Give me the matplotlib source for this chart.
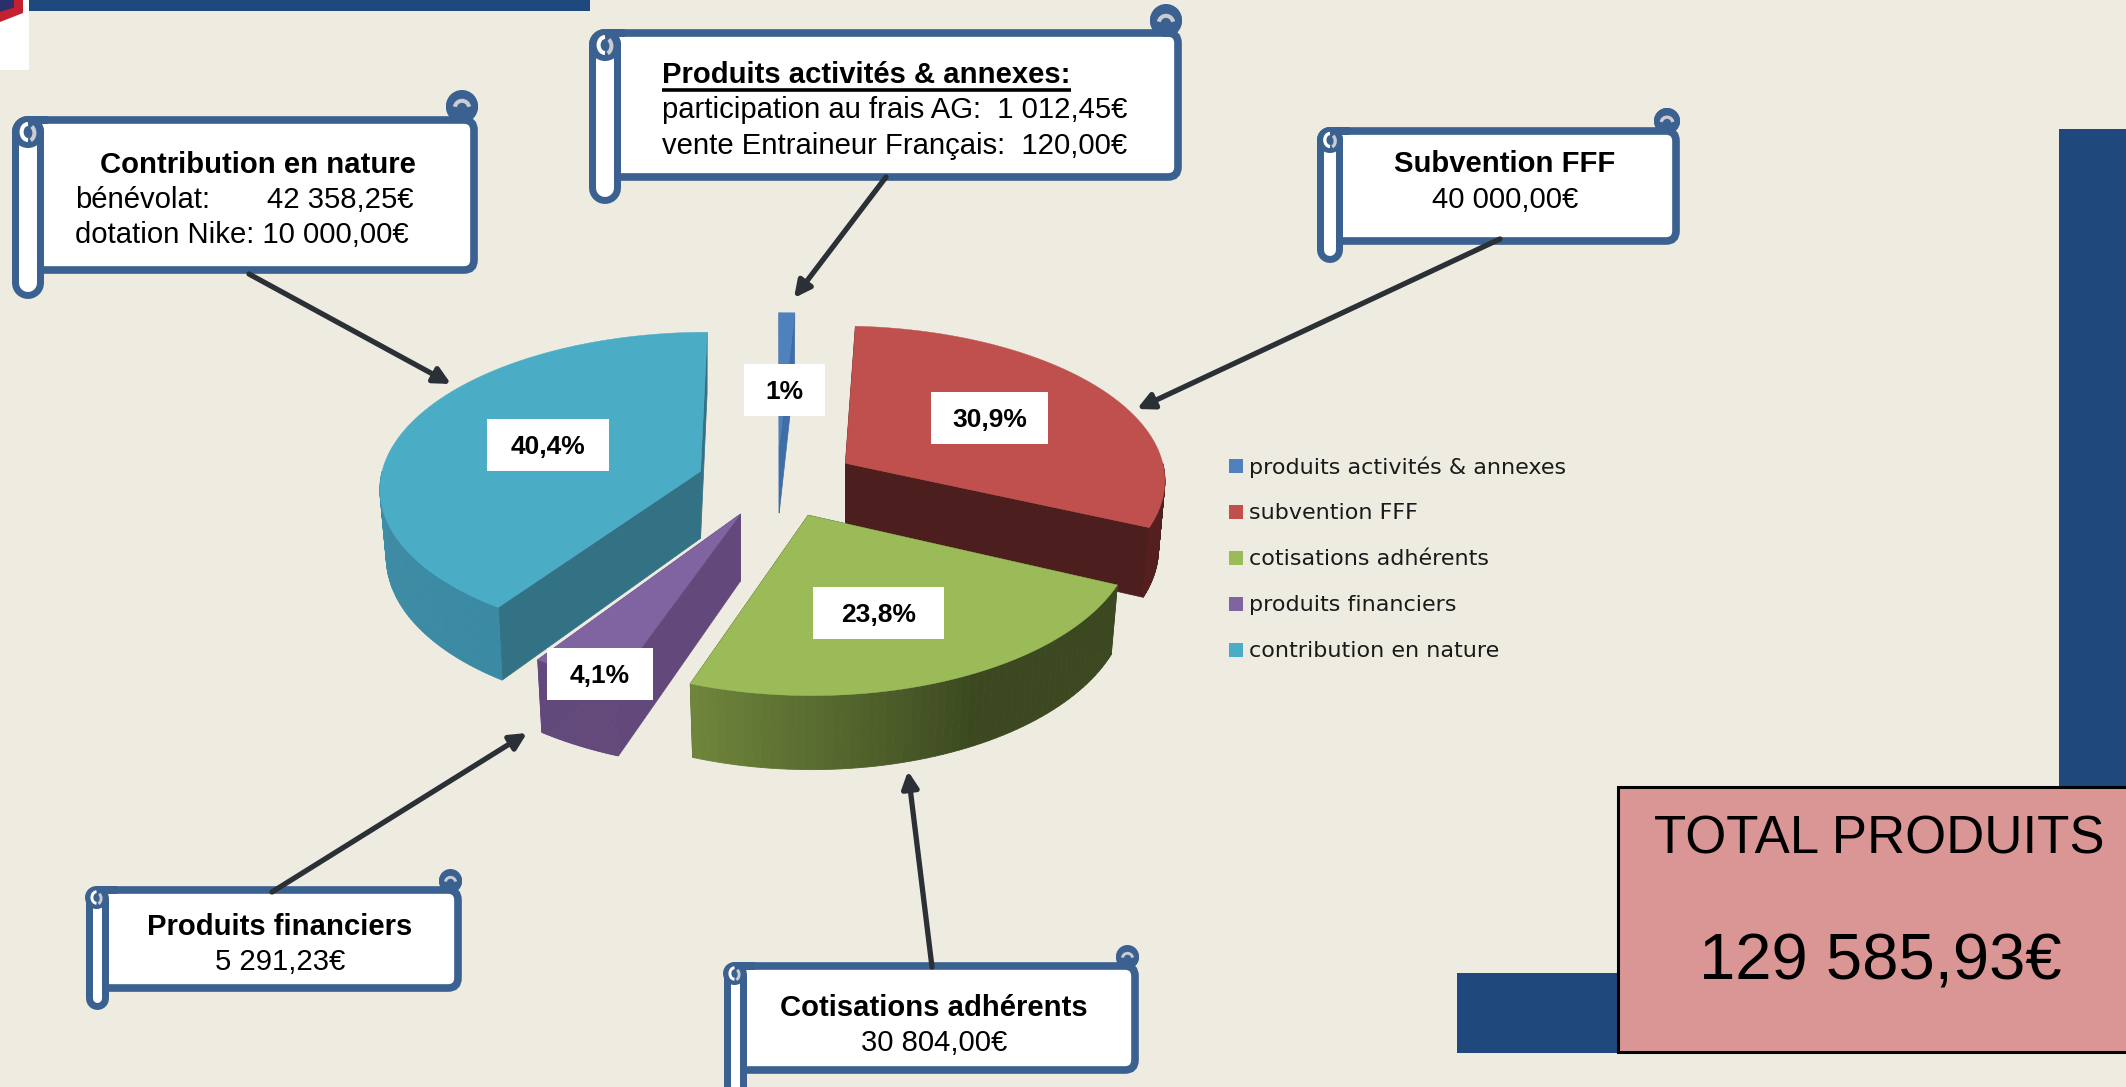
import numpy as np
import matplotlib
matplotlib.use("Agg")
import matplotlib.pyplot as plt
from matplotlib.colors import to_rgb
from matplotlib.patches import Rectangle, Polygon, FancyBboxPatch, Circle, Arc

# Donnees du graphique
categories = ["produits activités & annexes", "subvention FFF", "cotisations adhérents",
              "produits financiers", "contribution en nature"]
amounts = [1132.45, 40000.00, 30804.00, 5291.23, 52358.25]
pct_labels = ["1%", "30,9%", "23,8%", "4,1%", "40,4%"]
total_title = "TOTAL PRODUITS"
total_value = "129 585,93€"

top_colors = ["#4F81BD", "#C0504D", "#9BBB59", "#8064A2", "#4BACC6"]
face_colors = ["#3F6DA6", "#4D1E1E", "#3F4C22", "#63497B", "#337285"]
rim_left = ["#3F6DA6", "#561F1F", "#6F853B", "#62497C", "#3F8CA6"]
rim_right = ["#3F6DA6", "#4D1E1E", "#3C4920", "#63497B", "#3A8AA3"]

BG = "#EEECE1"
NAVY = "#1F497D"
SCROLL = "#3B6190"
ARROW = "#2B2F36"

plt.rcParams["font.family"] = ["Liberation Sans", "DejaVu Sans"]

fig = plt.figure(figsize=(21.26, 10.87), dpi=100, facecolor=BG)
ax = fig.add_axes([0, 0, 1, 1])
ax.set_xlim(0, 2126)
ax.set_ylim(1087, 0)
ax.axis("off")

# Fond de la diapositive
ax.add_patch(Rectangle((29, 0), 561, 11, color=NAVY, lw=0))
ax.add_patch(Rectangle((0, 0), 29, 70, color="white", lw=0))
ax.add_patch(Polygon([(0, 22), (23, 13), (23, 0), (0, 0)], color="#C4202F", lw=0))
ax.add_patch(Polygon([(0, 12), (14, 7.5), (14, 0), (0, 0)], color="#2B2F6B", lw=0))
ax.add_patch(Rectangle((2059, 129), 67, 680, color=NAVY, lw=0))
ax.add_patch(Rectangle((1457, 973), 669, 80, color=NAVY, lw=0))

# Camembert 3D : perspective simple sur chaque part
K = 0.095
CX, CY = 777, 482
EX, EY = 80, 36
DEPTH = 67

shares = np.array(amounts) / sum(amounts) * 360
ends = 90 - np.cumsum(shares)
starts = ends + shares


def project(i, theta):
    X, Y = np.cos(np.radians(theta)), np.sin(np.radians(theta))
    m = np.radians((starts[i] + ends[i]) / 2)
    rx, ry = 320 - 5 * np.sin(m), 155 - 9 * np.sin(m)
    dx = EX * np.cos(m)
    w = 1 + K * Y
    return CX + dx / w + rx * X / w, CY - EY * np.sin(m) - ry * Y / w


def drop(i, theta):
    # point correspondant sur la face du bas
    p = project(i, theta)
    w = 1 + K * np.sin(np.radians(theta))
    m = np.radians((starts[i] + ends[i]) / 2)
    ax0 = CX + EX * np.cos(m)
    return ax0 + (p[0] - ax0) * 0.98, p[1] + DEPTH / w


for i in [0, 4, 1, 3, 2]:
    a0, a1 = starts[i], ends[i]
    m = np.radians((a0 + a1) / 2)
    c = (CX + EX * np.cos(m), CY - EY * np.sin(m))
    c_low = (c[0], c[1] + DEPTH)
    # faces radiales
    for a in (a0, a1):
        ax.add_patch(Polygon([c, project(i, a), drop(i, a), c_low], color=face_colors[i], lw=0.5))
    # bord exterieur en degrade, seulement sur l'avant
    if a1 < 0:
        steps = np.linspace(min(a0, 0), max(a1, -180), 60)
        col_a, col_b = np.array(to_rgb(rim_right[i])), np.array(to_rgb(rim_left[i]))
        for j in range(len(steps) - 1):
            f = j / 58
            if i == 2:
                f = max(0, (f - 0.45) / 0.55)
            ax.add_patch(Polygon([project(i, steps[j]), project(i, steps[j + 1]),
                                  drop(i, steps[j + 1]), drop(i, steps[j])],
                                 color=col_a + (col_b - col_a) * f, lw=0.6))
    # dessus
    arc = [project(i, t) for t in np.linspace(a0, a1, 120)]
    ax.add_patch(Polygon([c] + arc, color=top_colors[i], lw=0.3))

# Etiquettes de pourcentage
pct_boxes = [(744, 364, 81), (931, 392, 117), (813, 587, 131), (547, 648, 106), (487, 419, 122)]
for (x, y, w), lab in zip(pct_boxes, pct_labels):
    ax.add_patch(Rectangle((x, y), w, 52, color="white", lw=0, zorder=5))
    ax.text(x + w / 2, y + 28, lab, ha="center", va="center", fontsize=19, fontweight="bold",
            color="black", zorder=6)

# Legende
legend_y = [466, 512, 558, 604, 650]
for y, col, lab in zip(legend_y, top_colors, categories):
    ax.add_patch(Rectangle((1229, y - 7), 14, 14, color=col, lw=0))
    ax.text(1249, y + 1, lab, ha="left", va="center", fontsize=16, family="DejaVu Sans", color="#1A1A1A")


def scroll(x0, x1, y0, y1, y_tube, y_curl, tube):
    # cartouche en forme de parchemin
    lw = 5.5
    r = tube / 2
    px = 0.72
    ax.add_patch(FancyBboxPatch((x0 + r, y0 + 4), x1 - x0 - r - 4, y1 - y0 - 8,
                                boxstyle="round,pad=0,rounding_size=10", fc="white", ec=SCROLL, lw=lw, zorder=3))
    ax.add_patch(Rectangle((x0 + r, y0), 20, 8, color=SCROLL, lw=0, zorder=3))
    # rouleau gauche
    ax.plot([x0 + r, x0 + r], [y0 + r, y_tube - r], color=SCROLL, lw=tube * px,
            solid_capstyle="round", zorder=4)
    ax.plot([x0 + r, x0 + r], [y0 + r, y_tube - r], color="white", lw=(tube - 14) * px,
            solid_capstyle="round", zorder=4)
    ax.add_patch(Circle((x0 + r, y0 + r), r, color=SCROLL, lw=0, zorder=4))
    ax.add_patch(Arc((x0 + r, y0 + r), r * 0.8, r, theta1=90, theta2=270, color="white", lw=tube / 11, zorder=5))
    ax.add_patch(Arc((x0 + r, y0 + r + 1), r * 0.8, r, theta1=-60, theta2=70, color="#C9CDD2", lw=tube / 11, zorder=5))
    # rouleau droit
    ax.add_patch(Circle((x1 - r, y_curl + r), r, color=SCROLL, lw=0, zorder=4))
    ax.add_patch(Circle((x1 - r, y0 + 7 - r), r, color=SCROLL, lw=0, zorder=4))
    ax.add_patch(Arc((x1 - r, y_curl + r + 2), r * 0.9, r * 0.9, theta1=190, theta2=350, color="#C9CDD2",
                     lw=tube / 11, zorder=5))


def arrow(a, b):
    ax.annotate("", xy=b, xytext=a, zorder=6,
                arrowprops=dict(arrowstyle="-|>,head_length=0.7,head_width=0.35", color=ARROW, lw=3.8,
                                shrinkA=0, shrinkB=0, mutation_scale=14))


FS = 21.1

arrow((249, 274), (451, 384))
arrow((886, 177), (794, 298))
arrow((1500, 239), (1137, 409))
arrow((272, 892), (527, 733))
arrow((932, 967), (908, 771))

# Contribution en nature
scroll(12, 478, 116, 274, 299, 90, 32)
ax.text(258, 165, "Contribution en nature", ha="center", va="center", fontsize=FS, fontweight="bold", zorder=6)
ax.text(75, 200, "bénévolat:", ha="left", va="center", fontsize=FS, zorder=6)
ax.text(267, 200, "42 358,25€", ha="left", va="center", fontsize=FS, zorder=6)
ax.text(75, 235, "dotation Nike: 10 000,00€", ha="left", va="center", fontsize=FS, zorder=6)

# Produits activites & annexes
scroll(589, 1182, 29, 181, 204, 5, 32)
ax.text(662, 75, "Produits activités & annexes:", ha="left", va="center", fontsize=FS, fontweight="bold", zorder=6)
ax.plot([662, 1071], [89.5, 89.5], color="black", lw=2.6, zorder=6, solid_capstyle="butt")
ax.text(662, 110, "participation au frais AG:  1 012,45€", ha="left", va="center", fontsize=FS, zorder=6)
ax.text(662, 146, "vente Entraineur Français:  120,00€", ha="left", va="center", fontsize=FS, zorder=6)

# Subvention FFF
scroll(1317, 1680, 127, 245, 263, 108, 26)
ax.text(1505, 164, "Subvention FFF", ha="center", va="center", fontsize=FS, fontweight="bold", zorder=6)
ax.text(1505, 200, "40 000,00€", ha="center", va="center", fontsize=FS, zorder=6)

# Produits financiers
scroll(85, 462, 886, 992, 1009, 869, 23)
ax.text(280, 927, "Produits financiers", ha="center", va="center", fontsize=FS, fontweight="bold", zorder=6)
ax.text(280, 962, "5 291,23€", ha="center", va="center", fontsize=FS, zorder=6)

# Cotisations adherents
scroll(723, 1139, 962, 1074, 1100, 945, 23)
ax.text(934, 1008, "Cotisations adhérents", ha="center", va="center", fontsize=FS, fontweight="bold", zorder=6)
ax.text(934, 1043, "30 804,00€", ha="center", va="center", fontsize=FS, zorder=6)

# Total
ax.add_patch(Rectangle((1618, 787), 520, 265, fc="#D99694", ec="black", lw=2.2, zorder=7))
ax.text(1879, 840, total_title, ha="center", va="center", fontsize=38, zorder=8)
ax.text(1880, 962, total_value, ha="center", va="center", fontsize=47, zorder=8)

fig.savefig("out.png", dpi=100, facecolor=BG)
